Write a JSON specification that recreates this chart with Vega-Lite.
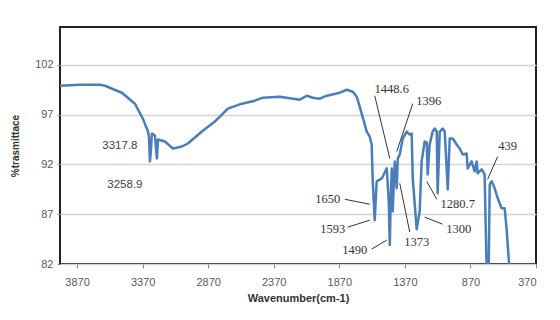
{
  "$schema": "https://vega.github.io/schema/vega-lite/v6.json",
  "width": 476,
  "height": 237,
  "autosize": {"type": "none"},
  "padding": {"left": 60, "top": 27, "right": 24, "bottom": 56},
  "background": "white",
  "config": {
    "view": {"stroke": "#222222", "strokeWidth": 2},
    "axis": {"labelFont": "Liberation Sans", "labelColor": "#595959", "labelFontSize": 11, "titleFont": "Liberation Sans", "titleColor": "#333333", "titleFontWeight": "bold", "gridColor": "#d4d4d4", "gridWidth": 1.5, "tickColor": "#888888", "domain": false}
  },
  "datasets": {
    "spec": [
      {"wn": 4000, "t": 99.9}, {"wn": 3848, "t": 100.0}, {"wn": 3695, "t": 100.0}, {"wn": 3657, "t": 99.9},
      {"wn": 3528, "t": 99.2}, {"wn": 3429, "t": 98.1}, {"wn": 3368, "t": 96.6}, {"wn": 3329, "t": 95.3},
      {"wn": 3322, "t": 94.8}, {"wn": 3314, "t": 92.3}, {"wn": 3307, "t": 93.3}, {"wn": 3299, "t": 95.1},
      {"wn": 3276, "t": 94.9}, {"wn": 3261, "t": 92.6}, {"wn": 3253, "t": 94.5}, {"wn": 3200, "t": 94.3},
      {"wn": 3139, "t": 93.6}, {"wn": 3070, "t": 93.8}, {"wn": 3025, "t": 94.1}, {"wn": 2918, "t": 95.3},
      {"wn": 2819, "t": 96.3}, {"wn": 2720, "t": 97.6}, {"wn": 2613, "t": 98.1}, {"wn": 2514, "t": 98.4},
      {"wn": 2453, "t": 98.7}, {"wn": 2324, "t": 98.8}, {"wn": 2171, "t": 98.5}, {"wn": 2118, "t": 98.9},
      {"wn": 2072, "t": 98.7}, {"wn": 2019, "t": 98.6}, {"wn": 1965, "t": 98.9}, {"wn": 1866, "t": 99.2},
      {"wn": 1813, "t": 99.5}, {"wn": 1767, "t": 99.3}, {"wn": 1737, "t": 98.8}, {"wn": 1699, "t": 97.1},
      {"wn": 1661, "t": 95.3}, {"wn": 1638, "t": 94.8}, {"wn": 1623, "t": 94.0}, {"wn": 1615, "t": 90.3},
      {"wn": 1600, "t": 86.4}, {"wn": 1585, "t": 90.3}, {"wn": 1546, "t": 90.6}, {"wn": 1508, "t": 91.6},
      {"wn": 1493, "t": 88.3}, {"wn": 1485, "t": 83.9}, {"wn": 1478, "t": 88.3}, {"wn": 1470, "t": 91.6},
      {"wn": 1463, "t": 87.3}, {"wn": 1447, "t": 92.3}, {"wn": 1432, "t": 89.6}, {"wn": 1424, "t": 92.6},
      {"wn": 1409, "t": 93.0}, {"wn": 1386, "t": 94.6}, {"wn": 1356, "t": 95.3}, {"wn": 1333, "t": 95.0},
      {"wn": 1318, "t": 95.1}, {"wn": 1310, "t": 90.6}, {"wn": 1280, "t": 85.5}, {"wn": 1257, "t": 87.3},
      {"wn": 1242, "t": 92.3}, {"wn": 1219, "t": 94.3}, {"wn": 1203, "t": 94.2}, {"wn": 1196, "t": 91.0},
      {"wn": 1181, "t": 94.0}, {"wn": 1158, "t": 95.3}, {"wn": 1143, "t": 95.6}, {"wn": 1127, "t": 95.3},
      {"wn": 1120, "t": 89.1}, {"wn": 1104, "t": 95.3}, {"wn": 1082, "t": 95.6}, {"wn": 1066, "t": 95.3},
      {"wn": 1043, "t": 89.5}, {"wn": 1028, "t": 94.6}, {"wn": 1005, "t": 94.6}, {"wn": 975, "t": 94.0},
      {"wn": 952, "t": 93.6}, {"wn": 929, "t": 93.0}, {"wn": 899, "t": 93.1}, {"wn": 891, "t": 91.6},
      {"wn": 861, "t": 92.3}, {"wn": 838, "t": 91.3}, {"wn": 822, "t": 92.3}, {"wn": 815, "t": 91.1},
      {"wn": 784, "t": 91.5}, {"wn": 762, "t": 91.0}, {"wn": 754, "t": 86.2}, {"wn": 746, "t": 81.2},
      {"wn": 731, "t": 81.2}, {"wn": 723, "t": 90.0}, {"wn": 708, "t": 90.3}, {"wn": 685, "t": 89.6},
      {"wn": 662, "t": 88.6}, {"wn": 632, "t": 87.6}, {"wn": 609, "t": 87.6}, {"wn": 594, "t": 85.5},
      {"wn": 571, "t": 81.2}
    ],
    "arrows": [
      {"x1": 1600, "y1": 98.9, "x2": 1485, "y2": 92.6},
      {"x1": 1310, "y1": 98.1, "x2": 1432, "y2": 93.3},
      {"x1": 662, "y1": 92.8, "x2": 739, "y2": 90.5},
      {"x1": 1828, "y1": 88.5, "x2": 1638, "y2": 88.0},
      {"x1": 1805, "y1": 85.7, "x2": 1638, "y2": 86.4},
      {"x1": 1623, "y1": 83.5, "x2": 1508, "y2": 84.4},
      {"x1": 1333, "y1": 85.2, "x2": 1409, "y2": 90.1},
      {"x1": 1082, "y1": 86.0, "x2": 1219, "y2": 86.7},
      {"x1": 1127, "y1": 88.5, "x2": 1203, "y2": 90.3}
    ],
    "labels": [
      {"wn": 1470, "t": 99.6, "label": "1448.6", "kind": "serif"},
      {"wn": 1188, "t": 98.4, "label": "1396", "kind": "serif"},
      {"wn": 586, "t": 93.8, "label": "439", "kind": "serif"},
      {"wn": 1958, "t": 88.5, "label": "1650", "kind": "serif"},
      {"wn": 1920, "t": 85.5, "label": "1593", "kind": "serif"},
      {"wn": 1752, "t": 83.4, "label": "1490", "kind": "serif"},
      {"wn": 1280, "t": 84.2, "label": "1373", "kind": "serif"},
      {"wn": 960, "t": 85.5, "label": "1300", "kind": "serif"},
      {"wn": 967, "t": 88.0, "label": "1280.7", "kind": "serif"},
      {"wn": 3543, "t": 93.8, "label": "3317.8", "kind": "sans"},
      {"wn": 3505, "t": 89.9, "label": "3258.9", "kind": "sans"}
    ]
  },
  "layer": [
    {
      "data": {"name": "spec"},
      "mark": {"type": "line", "color": "#4a7ebb", "strokeWidth": 2.5, "clip": true, "strokeJoin": "round"},
      "encoding": {
        "x": {"field": "wn", "type": "quantitative", "scale": {"domain": [370, 4000], "reverse": true, "nice": false, "zero": false},
          "axis": {"values": [3870, 3370, 2870, 2370, 1870, 1370, 870, 370], "format": "d", "grid": false, "tickSize": 4, "labelPadding": 8, "title": "Wavenumber(cm-1)", "titleFontSize": 11, "titlePadding": 5}},
        "y": {"field": "t", "type": "quantitative", "scale": {"domain": [82, 105.8], "nice": false, "zero": false},
          "axis": {"values": [82, 87, 92, 97, 102], "format": "d", "grid": true, "tickSize": 3, "labelPadding": 4, "title": "%trasmittace", "titleFontSize": 10, "titlePadding": 14}}
      }
    },
    {
      "data": {"name": "arrows"},
      "mark": {"type": "rule", "color": "#333333", "strokeWidth": 1},
      "encoding": {
        "x": {"field": "x1", "type": "quantitative"},
        "y": {"field": "y1", "type": "quantitative"},
        "x2": {"field": "x2"},
        "y2": {"field": "y2"}
      }
    },
    {
      "data": {"name": "labels"},
      "transform": [{"filter": "datum.kind == 'serif'"}],
      "mark": {"type": "text", "font": "Liberation Serif", "fontSize": 12.5, "color": "#333333", "align": "center", "baseline": "middle"},
      "encoding": {
        "x": {"field": "wn", "type": "quantitative"},
        "y": {"field": "t", "type": "quantitative"},
        "text": {"field": "label"}
      }
    },
    {
      "data": {"name": "labels"},
      "transform": [{"filter": "datum.kind == 'sans'"}],
      "mark": {"type": "text", "font": "Liberation Sans", "fontSize": 11.5, "color": "#404040", "align": "center", "baseline": "middle"},
      "encoding": {
        "x": {"field": "wn", "type": "quantitative"},
        "y": {"field": "t", "type": "quantitative"},
        "text": {"field": "label"}
      }
    }
  ]
}
